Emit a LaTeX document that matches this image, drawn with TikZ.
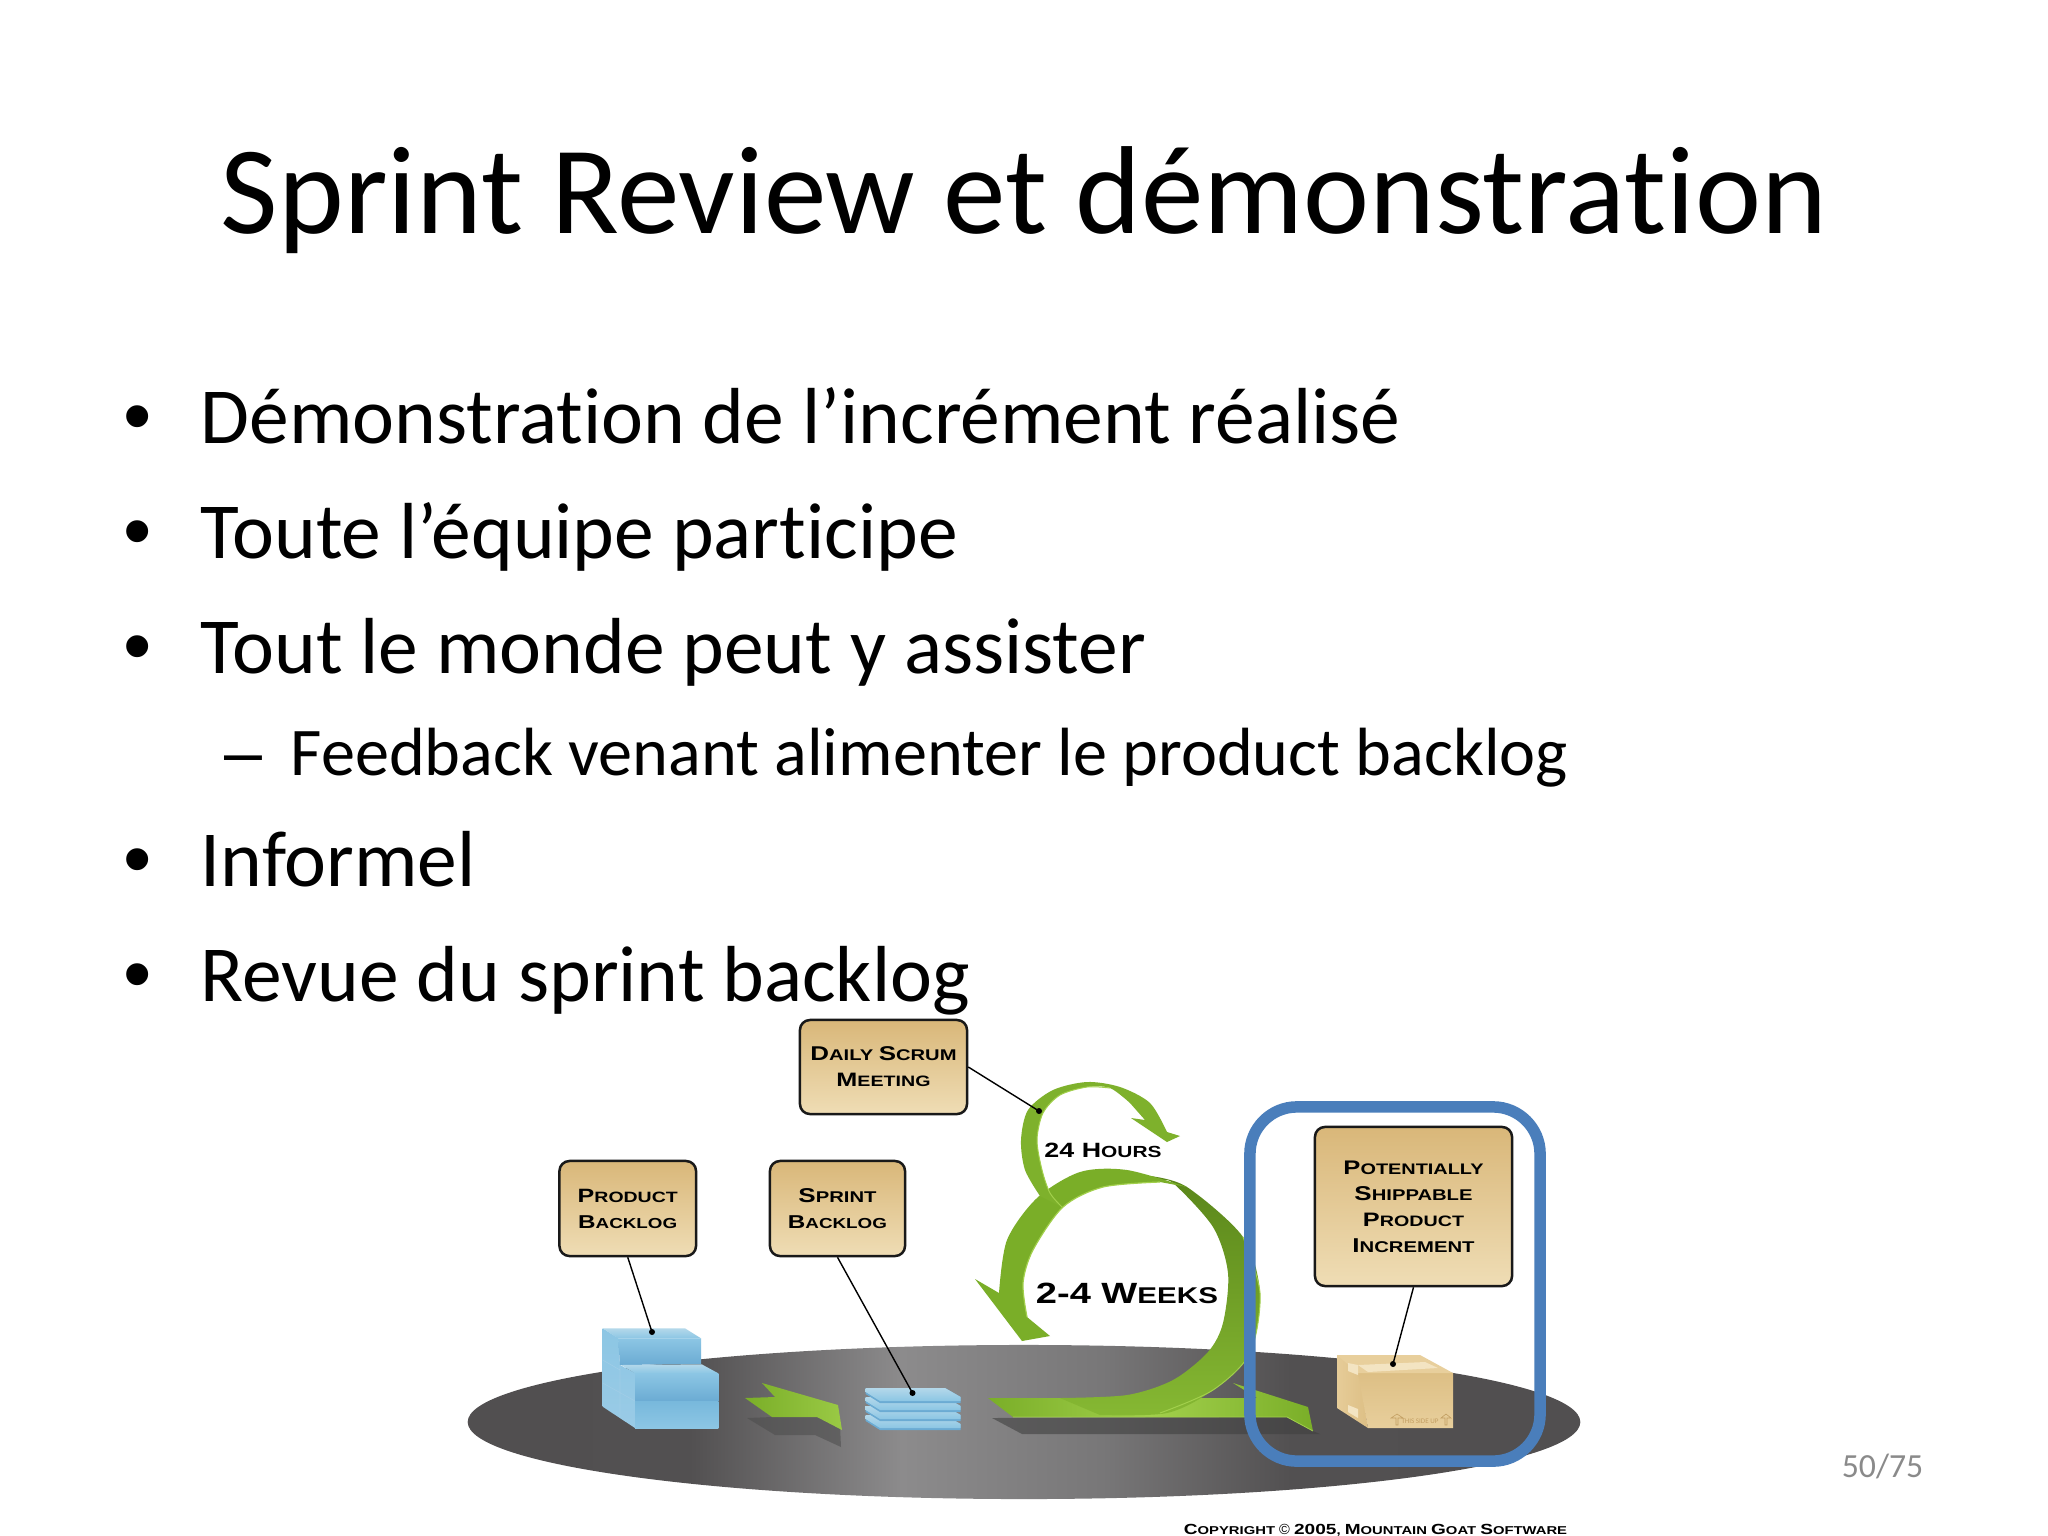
\documentclass[tikz,border=0pt]{standalone}
\usepackage{graphicx}
\usepackage{fontspec}
\setmainfont[Ligatures=CommonOff]{Carlito}
\newfontfamily\lblfont[FakeStretch=1.3]{Liberation Sans Bold}
\newfontfamily\dotfont{Liberation Sans}
\usetikzlibrary{calc}
\definecolor{pg1}{HTML}{8C8B8C}
\definecolor{pg2}{HTML}{4E4C4D}
\definecolor{pg3}{HTML}{787778}
\definecolor{pg4}{HTML}{525051}
\definecolor{rimblue}{HTML}{4A7EBB}
\definecolor{gfront}{HTML}{7AAE28}
\definecolor{glight}{HTML}{A2D04C}
\definecolor{gdark}{HTML}{5A861A}
\definecolor{tantop}{HTML}{D9B779}
\definecolor{tanbot}{HTML}{EFDDB5}
\definecolor{B0}{HTML}{B4D8EA}
\definecolor{B1}{HTML}{8CC6E4}
\definecolor{B2}{HTML}{9ACBE6}
\definecolor{B3}{HTML}{6BABD3}
\definecolor{B4}{HTML}{78B8DC}
\definecolor{C0}{HTML}{F3E4C2}
\definecolor{C1}{HTML}{DDBF85}
\definecolor{C2}{HTML}{E6CC98}
\definecolor{C3}{HTML}{E8CF9C}
\definecolor{C4}{HTML}{C29E62}
\pgfdeclarehorizontalshading{platform}{100bp}{color(0bp)=(pg2); color(35bp)=(pg4); color(44.5bp)=(pg1); color(53.5bp)=(pg3); color(62bp)=(pg4); color(100bp)=(pg2)}
% small-caps look: first letter large, rest small
\newcommand{\Lg}[1]{{\fontsize{18}{18}\selectfont #1}}
\newcommand{\lbl}[2]{\resizebox{#1cm}{!}{\lblfont\fontsize{14}{14}\selectfont #2}}
\tikzset{
  x=0.01cm,y=-0.01cm,
  titletext/.style={anchor=base,inner sep=0,font=\fontsize{35.6}{40}\selectfont},
  bodytext/.style={anchor=base west,inner sep=0,font=\fontsize{22.6}{26}\selectfont},
  subtext/.style={anchor=base west,inner sep=0,font=\fontsize{19.4}{23}\selectfont},
  bulletmark/.style={anchor=base,inner sep=0,font=\dotfont\fontsize{23}{26}\selectfont},
  dashmark/.style={anchor=base west,inner sep=0,font=\dotfont\fontsize{19.4}{23}\selectfont},
  notebox/.style={draw=black!90,line width=0.025cm,rounded corners=0.1cm,top color=tantop,bottom color=tanbot,inner sep=0,align=center,text=black,
     font=\fontsize{7}{7.4}\selectfont},
  pointer/.style={draw=black,line width=0.014cm},
  pin/.style={circle,fill=black,inner sep=0,minimum size=0.06cm},
}
\begin{document}
\begin{tikzpicture}
\useasboundingbox (0,0) rectangle (2048,1536);
\fill[white] (0,0) rectangle (2048,1536);
% title and body
\node[titletext] (title) at (1024,233) {Sprint Review et démonstration};
\node[bulletmark] (b1) at (138,443) {•};
\node[bodytext] (t1) at (200,443) {Démonstration de l’incrément réalisé};
\node[bulletmark] (b2) at (138,558) {•};
\node[bodytext] (t2) at (200,558) {Toute l’équipe participe};
\node[bulletmark] (b3) at (138,673) {•};
\node[bodytext] (t3) at (200,673) {Tout le monde peut y assister};
\node[dashmark] (d4) at (224,775) {–};
\node[subtext] (t4) at (290,775) {Feedback venant alimenter le product backlog};
\node[bulletmark] (b5) at (138,886) {•};
\node[bodytext] (t5) at (200,886) {Informel};
\node[bulletmark] (b6) at (138,1001) {•};
\node[bodytext] (t6) at (200,1001) {Revue du sprint backlog};
\node[anchor=base east,inner sep=0,text=black!46,font=\fontsize{9.6}{11}\selectfont] (pg) at (1924,1477) {50/75};

% platform
\path[shading=platform] (1024,1422) ellipse [x radius=5.56cm,y radius=0.77cm];

% product backlog stack
\shade[top color=B1,bottom color=B2] (602.7,1328.3) -- (618,1338) -- (620,1365) -- (635,1373) -- (635,1428) -- (602.7,1406.7) -- cycle;
\shade[top color=B0,bottom color=B1] (602.7,1328.3) -- (685,1328.3) -- (701,1338.3) -- (618,1338.3) -- cycle;
\shade[top color=B1,bottom color=B3] (618,1338.3) -- (701,1338.3) -- (701,1364) -- (620,1365) -- cycle;
\shade[top color=B0,bottom color=B1] (621,1365) -- (701.7,1364.3) -- (718.3,1373.3) -- (635,1373.3) -- cycle;
\shade[top color=B1,bottom color=B3] (635,1373.3) -- (718.3,1373.3) -- (718.3,1401) -- (635,1401) -- cycle;
\shade[top color=B4,bottom color=B1] (635,1401) -- (718.3,1401) -- (718.3,1428) -- (635,1428) -- cycle;
\draw[B4!70!white,line width=0.006cm] (602.7,1360) -- (620,1370) (602.7,1383) -- (635,1401) (620,1365) -- (620,1417);

% small arrow + shadow
\fill[black!70,opacity=.55] (747,1418) -- (775,1435) -- (815,1435) -- (841,1447) -- (840,1425) -- (817,1417) -- (772,1417) -- cycle;
\shade[left color=gfront,right color=glight!80!gfront] (745,1398) -- (775,1397) -- (762,1383) -- (838,1405) -- (842,1430) -- (817,1417) -- (772,1417) -- cycle;

% sprint backlog stack
\foreach \d in {27,18,9,0}{
  \fill[B3] (865.7,1388+\d) -- (945,1388+\d) -- (960.7,1397+\d) -- (960.7,1403+\d) -- (880,1403+\d) -- (865.7,1394+\d) -- cycle;
  \shade[top color=B0,bottom color=B1] (865.7,1388+\d) -- (945,1388+\d) -- (960.7,1397+\d) -- (960.7,1401+\d) -- (880,1401+\d) -- (865.7,1392+\d) -- cycle;
}

% green shadow
\fill[black!75,opacity=.6] (992,1418) -- (1022,1434) -- (1320,1434) -- (1313,1431) -- (1287,1417) -- cycle;
% flat bar
\shade[left color=gfront,right color=gfront,middle color=glight] (988,1398) -- (1013,1417) -- (1287,1417) -- (1313,1431) -- (1308,1407) -- (1233,1383) -- (1257,1398) -- cycle;
\draw[glight,line width=0.008cm] (1013,1417) -- (1287,1417) -- (1313,1431);
% back of the big loop
\shade[top color=gdark,bottom color=gfront!70!glight]
  plot[smooth] coordinates {(1100,1415) (1167,1413) (1213,1390) (1250,1353) (1260,1293) (1243,1237) (1187,1187) (1150,1176)}
  -- plot[smooth] coordinates {(1160,1182) (1173,1183) (1213,1227) (1228,1273) (1223,1323) (1208,1352) (1173,1380) (1127,1395) (1060,1398)}
  -- cycle;
\draw[glight,line width=0.01cm] plot[smooth] coordinates {(1160,1413) (1213,1390) (1250,1353) (1260,1293) (1243,1237)};
% front of the big loop
\fill[gfront]
  plot[smooth] coordinates {(999,1293) (1007,1240) (1037,1198) (1080,1172) (1127,1170) (1187,1187)}
  -- plot[smooth] coordinates {(1160,1182) (1103,1187) (1063,1207) (1033,1250) (1023,1283) (1027,1317)}
  -- (1050,1336) -- (1022,1341) -- (975,1279) -- cycle;
\draw[glight,line width=0.012cm] plot[smooth] coordinates {(1160,1182) (1103,1187) (1063,1207) (1033,1250) (1023,1283) (1027,1317)};
% small loop
\fill[gfront!90!glight]
  plot[smooth] coordinates {(1040,1196) (1025,1170) (1021,1140) (1028,1110) (1053,1090) (1087,1082) (1120,1087) (1150,1103) (1167,1132)}
  -- (1180,1136) -- (1167,1142) -- (1131,1118) -- (1145,1120)
  -- plot[smooth] coordinates {(1130,1103) (1110,1088) (1087,1087) (1060,1095) (1043,1113) (1037,1140) (1042,1170) (1050,1193) (1062,1207)}
  -- cycle;
\draw[glight,line width=0.01cm] plot[smooth] coordinates {(1110,1088) (1087,1087) (1060,1095) (1043,1113) (1037,1140) (1042,1170) (1050,1193) (1062,1207)};

% loop labels
\node[inner sep=0] (hours) at (1103,1150) {\lbl{1.17}{\Lg{24 H}OURS}};
\node[inner sep=0] (weeks) at (1127,1293) {\lbl{1.82}{\Lg{2-4 W}EEKS}};

% cardboard box
\shade[left color=C2,right color=C1] (1337,1355) -- (1358,1365) -- (1368,1428) -- (1337,1408) -- cycle;
\shade[top color=C1,bottom color=C3] (1358,1373) -- (1453,1373) -- (1453,1428) -- (1368,1428) -- cycle;
\fill[C3] (1337,1355) -- (1420,1355) -- (1453,1373) -- (1358,1373) -- cycle;
\fill[C0] (1348,1363) -- (1358,1365) -- (1358,1375) -- (1348,1371) -- cycle;
\fill[C0] (1358,1365) -- (1425,1362) -- (1438,1368) -- (1368,1372) -- cycle;
\fill[C0] (1348,1405) -- (1358,1409) -- (1358,1418) -- (1348,1412) -- cycle;
\draw[C4,line width=0.006cm] (1396,1425) -- (1396,1418) -- (1391,1418) -- (1397,1414) -- (1403,1418) -- (1398,1418) -- (1398,1425) -- cycle;
\draw[C4,line width=0.006cm] (1445,1425) -- (1445,1418) -- (1441,1418) -- (1446,1414) -- (1451,1418) -- (1447,1418) -- (1447,1425) -- cycle;
\node[inner sep=0,text=C4,font=\fontsize{2}{2}\selectfont] (sideup) at (1420,1421) {THIS SIDE UP};

% note boxes
\node[notebox,minimum width=1.365cm,minimum height=0.95cm] (product) at (627.75,1208.5) {\lbl{1}{\Lg{P}RODUCT}\\\lbl{0.99}{\Lg{B}ACKLOG}};
\node[notebox,minimum width=1.35cm,minimum height=0.95cm] (sprint) at (837.5,1208.5) {\lbl{0.78}{\Lg{S}PRINT}\\\lbl{0.99}{\Lg{B}ACKLOG}};
\node[notebox,minimum width=1.67cm,minimum height=0.94cm] (daily) at (883.5,1067) {\lbl{1.46}{\Lg{D}AILY \Lg{S}CRUM}\\\lbl{0.94}{\Lg{M}EETING}};
\node[notebox,minimum width=1.97cm,minimum height=1.59cm] (incr) at (1413.5,1206.5) {\lbl{1.40}{\Lg{P}OTENTIALLY}\\\lbl{1.18}{\Lg{S}HIPPABLE}\\\lbl{1.01}{\Lg{P}RODUCT}\\\lbl{1.22}{\Lg{I}NCREMENT}};

% pins and connectors
\node[pin] (pinproduct) at (652,1332) {};
\node[pin] (pinsprint) at (912.5,1393) {};
\node[pin] (pindaily) at (1039,1111) {};
\node[pin] (pinincr) at (1393,1364) {};
\draw[pointer] (product.south) -- (pinproduct.center);
\draw[pointer] (sprint.south) -- (pinsprint.center);
\draw[pointer] (daily.east) -- (pindaily.center);
\draw[pointer] (incr.south) -- (pinincr.center);

% highlight ring
\node[draw=rimblue,line width=0.115cm,rounded corners=0.47cm,minimum width=2.90cm,minimum height=3.54cm,inner sep=0,outer sep=0] (ring) at (1395,1284) {};

% copyright
\node[inner sep=0] (copy) at (1375.5,1530) {\lbl{3.83}{\Lg{C}OPYRIGHT {\fontsize{18}{18}\selectfont\dotfont ©} \Lg{2005}, \Lg{M}OUNTAIN \Lg{G}OAT \Lg{S}OFTWARE}};
\end{tikzpicture}
\end{document}
